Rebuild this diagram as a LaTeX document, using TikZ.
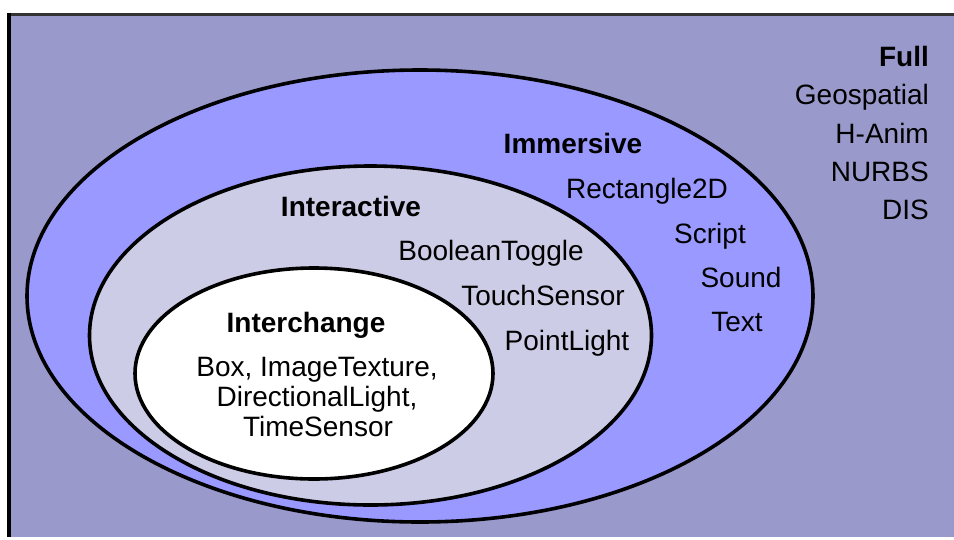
\documentclass[tikz,border=0pt]{standalone}
\usepackage{fontspec}
\setmainfont{Liberation Sans}

\definecolor{fullbg}{HTML}{9999CC}
\definecolor{immfill}{HTML}{9999FF}
\definecolor{intfill}{HTML}{CCCCE6}
\definecolor{framegray}{HTML}{333333}

\tikzset{
  ring/.style={draw=black, line width=3.6pt},
  lbl/.style={inner sep=0pt, font=\fontsize{28}{29.5}\selectfont, text=black},
  hdr/.style={lbl, font=\fontsize{28}{29.5}\selectfont\bfseries},
}

\begin{document}
\begin{tikzpicture}[x=1pt, y=-1pt]
  \useasboundingbox (0,0) rectangle (954,539);
  \fill[white] (0,0) rectangle (954,539);

  % outer "Full" panel
  \fill[fullbg] (9,15) rectangle (954,537);
  \draw[framegray, line width=2.6pt] (9,14.3) -- (954,14.3);
  \draw[black, line width=4pt] (9,12.5) -- (9,537);

  % nested profile ellipses
  \draw[ring, fill=immfill] (420,296) ellipse [x radius=393pt, y radius=226pt];
  \draw[ring, fill=intfill] (370.5,335.5) ellipse [x radius=281pt, y radius=169.5pt];
  \draw[ring, fill=white]   (314,373.5) ellipse [x radius=179pt, y radius=105.5pt];

  % Full
  \node[hdr, anchor=base east] (full) at (929,66) {Full};
  \node[lbl, anchor=base east] (geo)  at (929,104) {Geospatial};
  \node[lbl, anchor=base east] (hanim) at (929,143) {H-Anim};
  \node[lbl, anchor=base east] (nurbs) at (929,181) {NURBS};
  \node[lbl, anchor=base east] (dis)  at (929,219) {DIS};

  % Immersive
  \node[hdr, anchor=base] (imm)   at (573,153) {Immersive};
  \node[lbl, anchor=base] (rect)  at (647,198) {Rectangle2D};
  \node[lbl, anchor=base] (script) at (710,243) {Script};
  \node[lbl, anchor=base] (sound) at (741,287) {Sound};
  \node[lbl, anchor=base] (txt)   at (737,331) {Text};

  % Interactive
  \node[hdr, anchor=base] (inter)  at (351,216) {Interactive};
  \node[lbl, anchor=base] (bool)   at (491,260) {BooleanToggle};
  \node[lbl, anchor=base] (touch)  at (543,305) {TouchSensor};
  \node[lbl, anchor=base] (plight) at (567,350) {PointLight};

  % Interchange
  \node[hdr, anchor=base] (xchg)  at (306,332) {Interchange};
  \node[lbl, anchor=base] (box)   at (317,376) {Box, ImageTexture,};
  \node[lbl, anchor=base] (dlight) at (317,406) {DirectionalLight,};
  \node[lbl, anchor=base] (tsens) at (318,436) {TimeSensor};
\end{tikzpicture}
\end{document}
